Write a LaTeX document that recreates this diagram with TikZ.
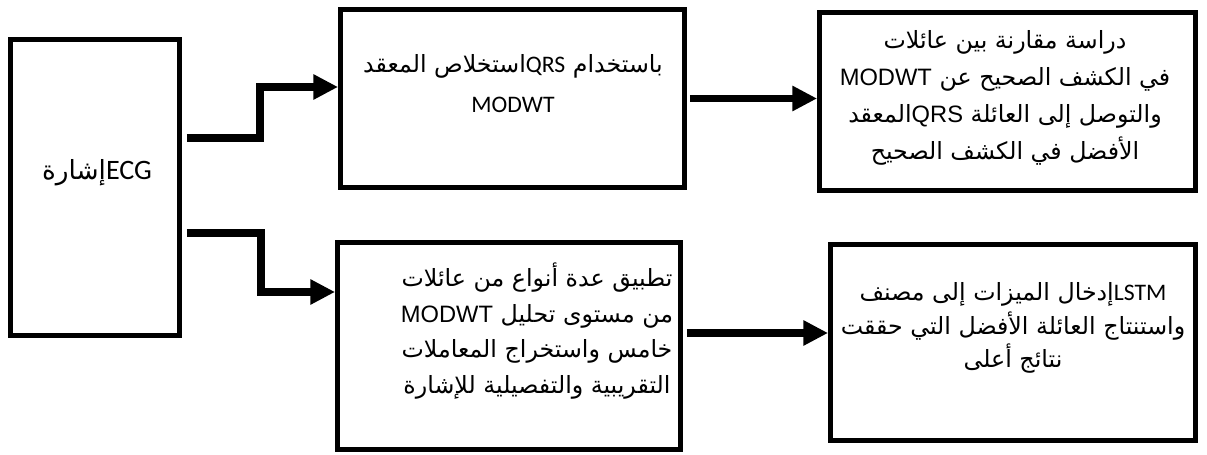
\documentclass[tikz,border=0pt]{standalone}
\usepackage{fontspec}
\usetikzlibrary{calc,positioning,arrows.meta}
\TeXXeTstate=1
\newfontfamily\arabicfont[Script=Arabic]{DejaVu Sans}
\newfontfamily\calibfont{Carlito}
\newfontfamily\arialfont{Liberation Sans}
\newcommand{\arl}[1]{\beginR#1\endR}
\newcommand{\ltn}[1]{\beginL{#1}\endL}
\tikzset{
  stagebox/.style={draw, rectangle, line width=2.8pt, inner sep=0pt},
  stagetext/.style={align=center, inner sep=0pt, font=\arabicfont\fontsize{13.5}{21}\selectfont},
  flow/.style={line width=4pt, -{Triangle[length=14pt,width=13.5pt]}},
}

\begin{document}
\begin{tikzpicture}[x=0.02cm,y=-0.02cm]
\useasboundingbox (0,0) rectangle (1207,455);
% boxes
\node[stagebox, minimum width=3.38cm, minimum height=5.92cm] (sig) at (95,187.5) {};
\node[stagebox, minimum width=6.88cm, minimum height=3.56cm] (qrs) at (512.5,98.5) {};
\node[stagebox, minimum width=7.52cm, minimum height=3.56cm] (cmp) at (1007.5,101.5) {};
\node[stagebox, minimum width=6.86cm, minimum height=4.14cm] (fam) at (509,346) {};
\node[stagebox, minimum width=7.3cm, minimum height=3.92cm] (lstm) at (1013,342.5) {};
% texts
\node[stagetext, font=\arabicfont\fontsize{15}{21}\selectfont] (sig-txt) at (97,173)
  {\arl{\ltn{\calibfont\fontsize{16}{21}\selectfont ECG}إشارة}};
\node[stagetext, font=\arabicfont\fontsize{13.5}{22.8}\selectfont] (qrs-txt) at (513,84)
  {\arl{باستخدام \ltn{\calibfont QRS}استخلاص المعقد}\\ {\calibfont MODWT}};
\node[stagetext] (cmp-txt) at (1005,98)
  {\arl{دراسة مقارنة بين عائلات}\\
   \arl{في الكشف الصحيح عن \ltn{\arialfont MODWT}}\\
   \arl{والتوصل إلى العائلة \ltn{\arialfont QRS}المعقد}\\
   \arl{الأفضل في الكشف الصحيح}};
\node[stagetext, font=\arabicfont\fontsize{13.5}{20.3}\selectfont] (fam-txt) at (537,331)
  {\arl{تطبيق عدة أنواع من عائلات}\\
   \arl{من مستوى تحليل \ltn{\arialfont MODWT}}\\
   \arl{خامس واستخراج المعاملات}\\
   \arl{التقريبية والتفصيلية للإشارة}};
\node[stagetext, font=\arabicfont\fontsize{13.5}{19}\selectfont] (lstm-txt) at (1013,328)
  {\arl{\ltn{\calibfont LSTM}إدخال الميزات إلى مصنف}\\
   \arl{واستنتاج العائلة الأفضل التي حققت}\\
   \arl{نتائج أعلى}};
% arrows
\coordinate (upbend) at (260,87);
\coordinate (downbend) at (261,292);
\coordinate (famout) at ($(fam.east)+(4,-13)$);
\draw[flow] ($(sig.east)+(5,-49.5)$) -| (upbend) -- (upbend -| qrs.west);
\draw[flow] ($(sig.east)+(5,45.5)$) -| (downbend) -- (downbend -| fam.west);
\draw[flow] ($(qrs.east)+(3,0)$) -- (qrs.east -| cmp.west);
\draw[flow] (famout) -- (famout -| lstm.west);
\end{tikzpicture}
\end{document}
